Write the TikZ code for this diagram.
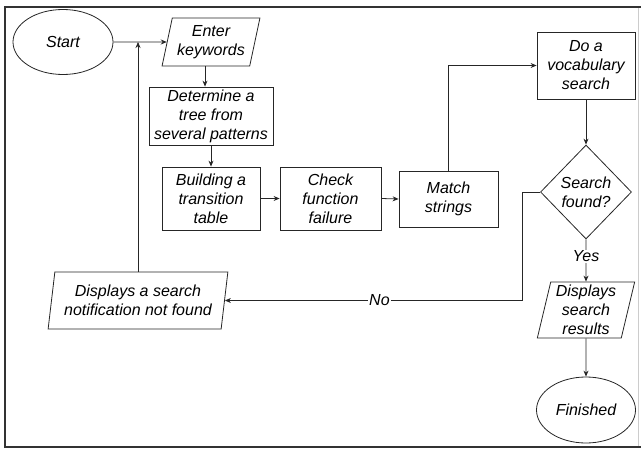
\documentclass[tikz,border=0pt]{standalone}
\usepackage{fontspec}
\setmainfont{Liberation Sans}
\usetikzlibrary{shapes.geometric,arrows.meta}

\tikzset{
  base/.style={draw=black!85, line width=0.8pt, align=center, inner sep=0pt,
    font=\fontsize{16}{19}\selectfont\itshape},
  procbox/.style={base, rectangle, minimum width=#1},
  terminal/.style={base, ellipse, minimum width=100pt, minimum height=65pt},
  iobox/.style={base, trapezium, trapezium stretches=true},
  decision/.style={base, diamond, minimum width=91pt, minimum height=94pt},
  arr/.style={draw=black!85, line width=0.8pt, -{Stealth[length=6pt,width=5pt]}},
  lbl/.style={fill=white, inner sep=1pt, font=\fontsize{16}{19}\selectfont\itshape}
}

\begin{document}
\begin{tikzpicture}[x=1pt, y=-1pt]
  \useasboundingbox (0,0) rectangle (641,450);
  % frame
  \draw[black!20, line width=1pt] (638,7) -- (638,447);
  \draw[black!80, line width=1.6pt] (641,7) -- (5,7) -- (5,447) -- (641,447);

  % nodes
  \node[terminal] (start) at (63,42) {Start};
  \node[iobox, trapezium left angle=75, trapezium right angle=105,
        minimum width=98pt, minimum height=48pt] (enter) at (211,42) {Enter\\keywords};
  \node[procbox=124pt, minimum height=58pt] (tree) at (211,116) {Determine a\\tree from\\several patterns};
  \node[procbox=98pt, minimum height=63pt] (build) at (211,198.5) {Building a\\transition\\table};
  \node[procbox=101pt, minimum height=63pt] (check) at (330.5,198.5) {Check\\function\\failure};
  \node[procbox=99pt, minimum height=56pt] (match) at (448.5,199) {Match\\strings};
  \node[procbox=98pt, minimum height=67pt] (vocab) at (586,65.5) {Do a\\vocabulary\\search};
  \node[decision] (found) at (586,192) {Search\\found?};
  \node[iobox, trapezium left angle=77, trapezium right angle=103,
        minimum width=98pt, minimum height=56pt] (results) at (586,310) {Displays\\search\\results};
  \node[terminal, minimum width=99pt, minimum height=66pt] (finish) at (586,410) {Finished};
  \node[iobox, trapezium left angle=79, trapezium right angle=101,
        minimum width=180pt, minimum height=57pt] (notfound) at (138,300.5) {Displays a search\\notification not found};

  \coordinate (join) at (notfound.north |- start.east);

  % connectors
  \draw[arr] (start.east) -- (enter.west);
  \draw[arr] (enter.south -| 205,0) -- (tree.north -| 205,0);
  \draw[arr] (tree.south) -- (build.north);
  \draw[arr] (build.east) -- (check.east -| check.west);
  \draw[arr] (check.east) -- (match.west);
  \draw[arr] (match.north) |- (vocab.west);
  \draw[arr] (vocab.south) -- (found.north);
  \draw[arr] (found.south) -- (results.north)
    node[lbl, pos=0.4] {Yes};
  \draw[arr] (results.south) -- (finish.north);
  \draw[arr] (found.west) -- ++(-18,0) |- (notfound.east)
    node[lbl, pos=0.74] {No};
  \draw[arr] (notfound.north) -- (join);
\end{tikzpicture}
\end{document}
